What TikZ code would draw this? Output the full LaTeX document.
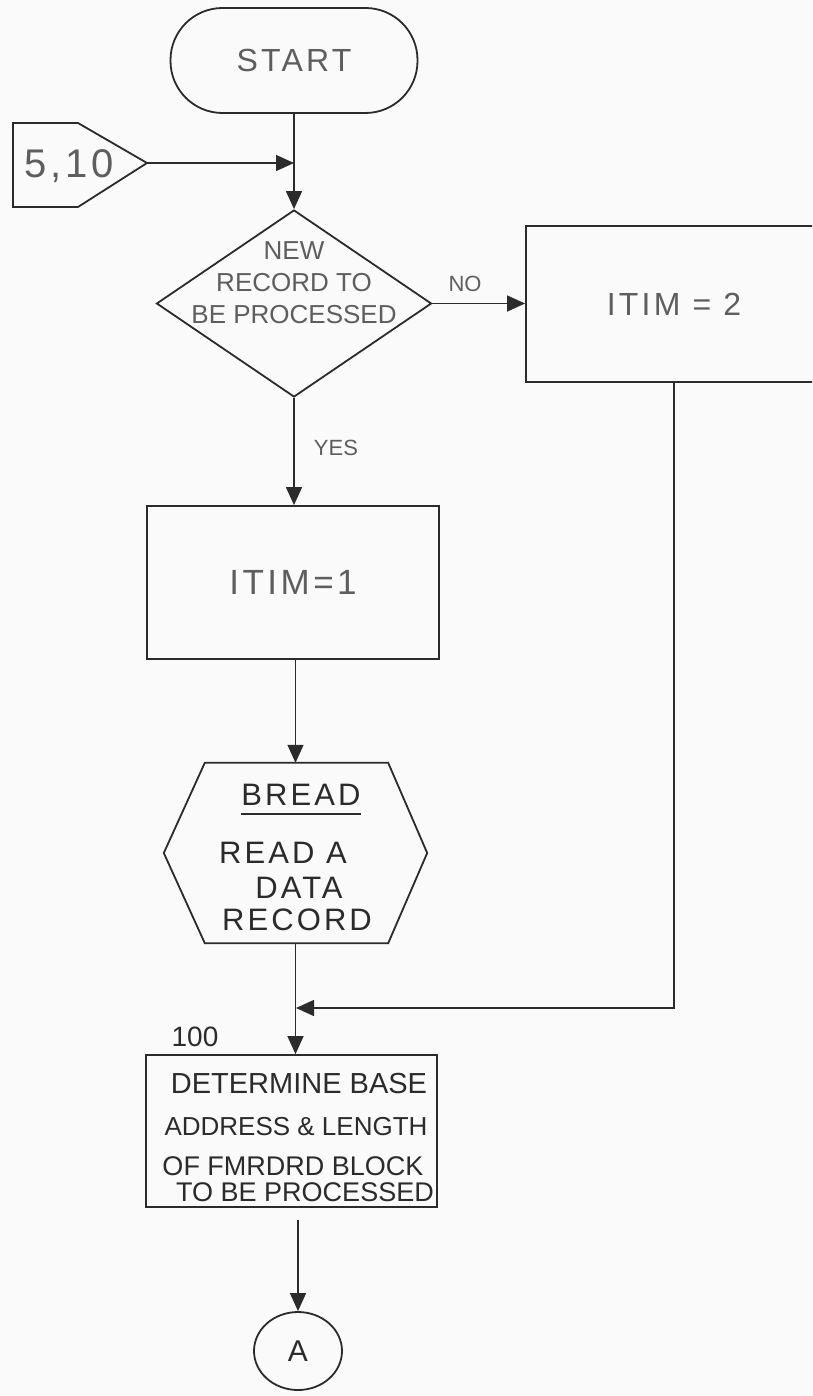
\documentclass[tikz,border=0pt]{standalone}
\usepackage{fontspec}
\setmainfont{Liberation Sans}
\newfontfamily\widefont[LetterSpace=10]{Liberation Sans}
\usetikzlibrary{arrows.meta,shapes.geometric,calc}
\definecolor{ink}{HTML}{2B2B2B}
\definecolor{lighttext}{HTML}{5E5E5E}
\definecolor{paper}{HTML}{FAFAFA}
\begin{document}
\begin{tikzpicture}[x=1pt,y=-1pt,
  box/.style={draw=ink, line width=1.8pt, rectangle, inner sep=0pt},
  conn/.style={draw=ink, line width=1.4pt},
  arr/.style={conn, -{Triangle[length=18pt,width=16pt]}},
  lbl/.style={text=lighttext, inner sep=0pt},
  dark/.style={text=ink, inner sep=0pt}
]
\useasboundingbox (0,0) rectangle (812,1396);
\fill[paper] (0,0) rectangle (812,1396);
\clip (0,0) rectangle (812,1396);

% terminal
\node[box, rounded corners=52pt, minimum width=247pt, minimum height=105pt,
      text=lighttext, font=\widefont\fontsize{32}{38}\selectfont] (start) at (294,60.5) {START};

% off-page connector 5,10
\draw[box] (13,123) -- (78,123) -- (147,163) -- (78,207) -- (13,207) -- cycle;
\node[lbl, font=\widefont\fontsize{40}{48}\selectfont] (off) at (69,166) {5,10};
\coordinate (offtip) at (147,163);

% decision
\node[box, diamond, minimum width=275pt, minimum height=187pt] (dec) at (294,303.5) {};
\node[lbl, align=center, font=\fontsize{26}{32}\selectfont] (dectext) at (294,283) {NEW\\RECORD TO\\BE PROCESSED};

% ITIM = 2
\node[box, minimum width=296pt, minimum height=156pt, text=lighttext,
      font=\widefont\fontsize{32}{38}\selectfont] (itim2) at (674,304) {ITIM = 2};
\node[lbl, font=\fontsize{22}{26}\selectfont] (nolbl) at (465,284) {NO};

% ITIM=1
\node[box, minimum width=292pt, minimum height=153pt, text=lighttext,
      font=\widefont\fontsize{35}{40}\selectfont] (itim1) at (293,582.5) {ITIM=1};
\node[lbl, font=\fontsize{22}{26}\selectfont] (yeslbl) at (336,448) {YES};

% BREAD hexagon
\node[minimum width=263pt, minimum height=180pt, inner sep=0pt] (bread) at (295.5,853) {};
\draw[box] ($(bread.north west)+(41,0)$) -- ($(bread.north east)+(-39,0)$) -- (bread.east)
  -- ($(bread.south east)+(-39,0)$) -- ($(bread.south west)+(41,0)$) -- (bread.west) -- cycle;
\node[dark, font=\widefont\fontsize{31}{36}\selectfont] (breadt) at (301,795) {BREAD};
\draw[ink, line width=1.4pt] ($(breadt.south west)+(0,8)$) -- ($(breadt.south east)+(0,8)$);
\node[dark, font=\widefont\fontsize{31}{36}\selectfont] (bl1) at (283,853) {READ A};
\node[dark, font=\widefont\fontsize{31}{36}\selectfont] (bl2) at (299,888) {DATA};
\node[dark, font=\widefont\fontsize{31}{36}\selectfont] (bl3) at (297,920) {RECORD};

% 100 box
\node[dark, font=\fontsize{28}{32}\selectfont] (n100) at (195,1037) {100};
\node[box, minimum width=291pt, minimum height=152pt] (det) at (291.5,1131) {};
\node[dark, font=\fontsize{29}{32}\selectfont] (d1) at (299,1084) {DETERMINE BASE};
\node[dark, font=\fontsize{26}{32}\selectfont] (d2) at (296,1127) {ADDRESS \& LENGTH};
\node[dark, font=\fontsize{27}{32}\selectfont] (d3) at (293,1166) {OF FMRDRD BLOCK};
\node[dark, font=\fontsize{27}{32}\selectfont] (d4) at (305,1192) {TO BE PROCESSED};

% connector A
\node[draw=ink, line width=1.8pt, ellipse, minimum width=88pt, minimum height=78pt,
      inner sep=0pt, text=ink, font=\fontsize{30}{34}\selectfont] (conA) at (298,1351) {A};

% connectors
\draw[arr] (start.south) -- (dec.north);
\draw[arr] (offtip) -- (offtip -| dec.north);
\draw[arr] (dec.east) -- (dec.east -| itim2.west);
\draw[arr] (dec.south) -- (dec.south |- itim1.north);
\draw[arr] (itim1.south -| bread.north) -- (bread.north);
\draw[arr] (bread.south) -- (bread.south |- det.north);
\coordinate (join) at (296,1008);
\draw[arr] (itim2.south) |- (join);
\draw[arr, shorten <=12pt] (conA.north |- det.south) -- (conA.north);
\end{tikzpicture}
\end{document}
